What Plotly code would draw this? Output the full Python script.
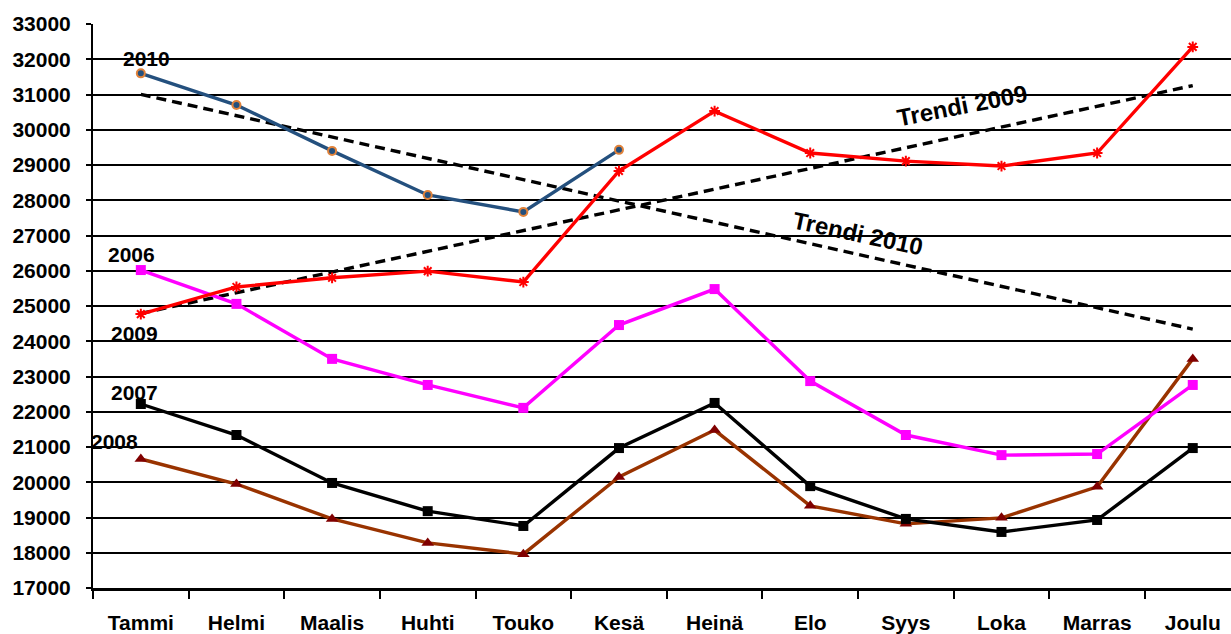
import numpy as np
import plotly.graph_objects as go

months = ["Tammi", "Helmi", "Maalis", "Huhti", "Touko", "Kesä", "Heinä",
          "Elo", "Syys", "Loka", "Marras", "Joulu"]

y2006 = [26020, 25060, 23500, 22760, 22110, 24460, 25480, 22870, 21340, 20770, 20800, 22760]
y2007 = [22220, 21340, 19980, 19180, 18760, 20970, 22250, 19890, 18960, 18590, 18930, 20970]
y2008 = [20660, 19950, 18960, 18280, 17960, 20150, 21480, 19330, 18820, 18990, 19870, 23500]
y2009 = [24770, 25540, 25800, 25990, 25680, 28830, 30530, 29340, 29110, 28970, 29340, 32350]
y2010 = [31600, 30700, 29400, 28150, 27670, 29430]

yticks = list(range(17000, 33001, 1000))
yticktext = [str(v) for v in yticks]

FONT = "Liberation Sans, Arial, sans-serif"

idx = np.arange(len(months))
# Linear trendlines (as in the spreadsheet) fitted to the data
p09 = np.polyfit(np.arange(len(y2009)), y2009, 1)
p10 = np.polyfit(np.arange(len(y2010)), y2010, 1)
trend09 = np.polyval(p09, idx)
trend10 = np.polyval(p10, idx)

fig = go.Figure()

fig.add_trace(go.Scatter(x=months, y=trend09, mode="lines",
                         line=dict(color="black", width=3.4, dash="10px,6px"), hoverinfo="skip"))
fig.add_trace(go.Scatter(x=months, y=trend10, mode="lines",
                         line=dict(color="black", width=3.4, dash="10px,6px"), hoverinfo="skip"))

fig.add_trace(go.Scatter(x=months, y=y2008, mode="lines+markers", name="2008",
                         line=dict(color="#993300", width=3.4),
                         marker=dict(symbol="triangle-up", size=11, color="#800000")))
fig.add_trace(go.Scatter(x=months, y=y2007, mode="lines+markers", name="2007",
                         line=dict(color="black", width=3.4),
                         marker=dict(symbol="square", size=10, color="black")))
fig.add_trace(go.Scatter(x=months, y=y2006, mode="lines+markers", name="2006",
                         line=dict(color="#FF00FF", width=3.4),
                         marker=dict(symbol="square", size=10, color="#FF00FF")))
fig.add_trace(go.Scatter(x=months, y=y2009, mode="lines+markers", name="2009",
                         line=dict(color="#FF0000", width=3.4),
                         marker=dict(symbol="asterisk-open", size=9,
                                     line=dict(color="#FF0000", width=2))))
fig.add_trace(go.Scatter(x=months[:len(y2010)], y=y2010, mode="lines+markers", name="2010",
                         line=dict(color="#24507E", width=3.4),
                         marker=dict(symbol="circle", size=8, color="#24507E",
                                     line=dict(color="#E0823A", width=2))))

labels = [("2010", 0.06, 32035), ("2006", -0.1, 26475), ("2009", -0.07, 24234),
          ("2007", -0.07, 22560), ("2008", -0.27, 21170)]
for t, x, y in labels:
    fig.add_annotation(x=x, y=y, text="<b>%s</b>" % t, showarrow=False,
                       font=dict(family=FONT, size=21, color="black"))

fig.add_annotation(x=8.59, y=30700, text="<b>Trendi 2009</b>", showarrow=False, textangle=-11,
                   font=dict(family=FONT, size=24, color="black"))
fig.add_annotation(x=7.5, y=27070, text="<b>Trendi 2010</b>", showarrow=False, textangle=12,
                   font=dict(family=FONT, size=24, color="black"))

fig.update_layout(
    width=1231, height=634,
    margin=dict(l=93, r=0, t=24, b=46),
    plot_bgcolor="white", paper_bgcolor="white",
    showlegend=False,
    font=dict(family=FONT, size=21, color="black"),
)
fig.update_xaxes(type="category", categoryorder="array", categoryarray=months,
                 range=[-0.5, 11.4], tickson="boundaries", ticks="outside", ticklen=8,
                 tickwidth=2, tickcolor="black", showgrid=False, showline=True,
                 linecolor="black", linewidth=3,
                 tickfont=dict(family=FONT, size=21, color="black", weight="bold"),
                 ticklabelstandoff=14)
fig.update_yaxes(range=[17000, 33000], tickvals=yticks, ticktext=yticktext,
                 ticks="outside", ticklen=5,
                 tickwidth=2, tickcolor="black", showgrid=True, gridcolor="black",
                 gridwidth=2, showline=True, linecolor="black", linewidth=2,
                 zeroline=False,
                 tickfont=dict(family=FONT, size=21, color="black", weight="bold"),
                 ticklabelstandoff=11)

fig.write_html("out.html", post_script="document.body.style.margin='0';",
               config={"displayModeBar": False})
